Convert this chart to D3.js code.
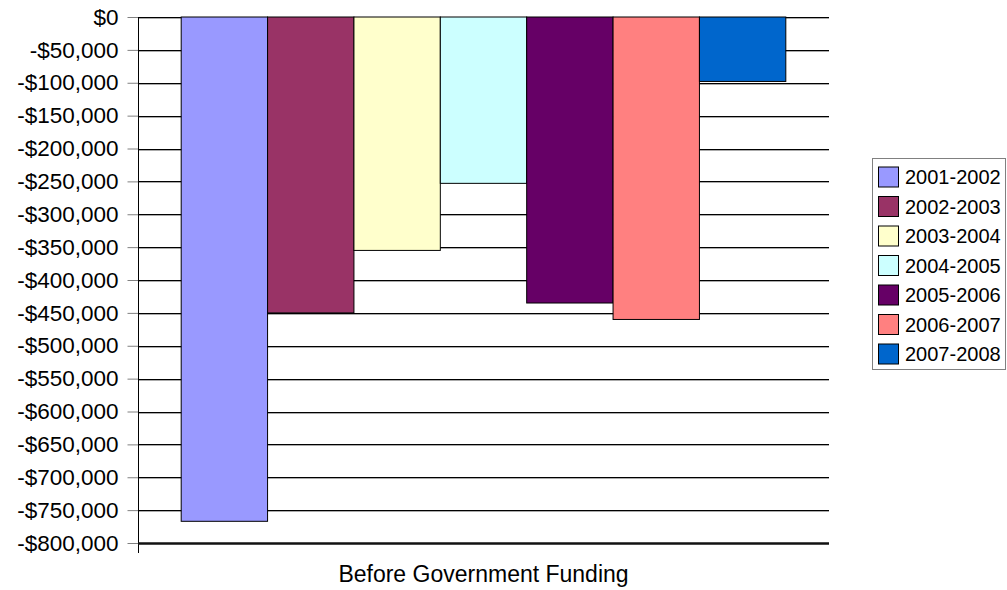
<!DOCTYPE html>
<html>
<head>
<meta charset="utf-8">
<script src="https://cdn.jsdelivr.net/npm/d3@7"></script>
<style>
  html, body { margin: 0; padding: 0; background: #fff; }
  svg { display: block; font-family: "Liberation Sans", Arial, sans-serif; }
</style>
</head>
<body>
<svg id="chart" width="1007" height="590"></svg>
<script>
const category = "Before Government Funding";
const seriesNames = ["2001-2002", "2002-2003", "2003-2004", "2004-2005", "2005-2006", "2006-2007", "2007-2008"];
const seriesValues = [-767000, -450000, -355000, -253000, -435000, -460000, -98000];
const seriesColors = ["#9999FF", "#993366", "#FFFFCC", "#CCFFFF", "#660066", "#FF8080", "#0066CC"];
const yTicks = [0, -50000, -100000, -150000, -200000, -250000, -300000, -350000, -400000,
                -450000, -500000, -550000, -600000, -650000, -700000, -750000, -800000];

(function () {
const svg = d3.select("#chart");
const pL = 138, pR = 829, pT = 17, pB = 543;

const y = d3.scaleLinear().domain([-800000, 0]).range([pB, pT]);
const x = d3.scaleBand().domain(seriesNames).range([pL, pR]).paddingInner(0).paddingOuter(0.5);

const fmt = d => d === 0 ? "$0" : "-$" + d3.format(",")(Math.abs(d));

// gridlines
const grid = svg.append("g");
yTicks.filter(t => t !== -800000).forEach(t => {
  grid.append("line").attr("x1", pL).attr("x2", pR)
    .attr("y1", Math.round(y(t)) + 1.5).attr("y2", Math.round(y(t)) + 1.5)
    .attr("stroke", "#aaaaaa").attr("stroke-width", 1);
  grid.append("line").attr("x1", pL).attr("x2", pR)
    .attr("y1", Math.round(y(t)) + 0.5).attr("y2", Math.round(y(t)) + 0.5)
    .attr("stroke", "#000").attr("stroke-width", 1);
});

// bars
svg.append("g").selectAll("rect").data(seriesValues).join("rect")
  .attr("x", (d, i) => x(seriesNames[i]))
  .attr("y", d => y(0))
  .attr("width", x.bandwidth())
  .attr("height", d => y(d) - y(0))
  .attr("fill", (d, i) => seriesColors[i])
  .attr("stroke", "#000").attr("stroke-width", 1);

// y axis
const yAxis = d3.axisLeft(y).tickValues(yTicks).tickFormat(fmt).tickSize(11).tickPadding(9);
const ya = svg.append("g").attr("transform", `translate(${pL + 0.5},0)`).call(yAxis);
ya.select(".domain").remove();
ya.selectAll(".tick line").attr("stroke", "#808080");
ya.selectAll(".tick text").attr("font-size", 22.5).attr("fill", "#000")
  .attr("font-family", "'Liberation Sans', Arial, sans-serif");
svg.append("line").attr("x1", pL + 0.5).attr("x2", pL + 0.5)
  .attr("y1", pT).attr("y2", pB + 10).attr("stroke", "#000").attr("stroke-width", 1);

// bottom axis (thick)
svg.append("line").attr("x1", pL).attr("x2", pR)
  .attr("y1", pB + 0.5).attr("y2", pB + 0.5).attr("stroke", "#111").attr("stroke-width", 2.5);

// x label
svg.append("text").attr("x", (pL + pR) / 2).attr("y", 582)
  .attr("text-anchor", "middle").attr("font-size", 23).attr("fill", "#000").text(category);

// legend
const lg = svg.append("g");
lg.append("rect").attr("x", 872.5).attr("y", 158.5).attr("width", 133).attr("height", 211)
  .attr("fill", "#fff").attr("stroke", "#808080").attr("stroke-width", 1);
seriesNames.forEach((n, i) => {
  const cy = 177 + i * 29.5;
  lg.append("rect").attr("x", 878.5).attr("y", cy - 10).attr("width", 20).attr("height", 20)
    .attr("fill", seriesColors[i]).attr("stroke", "#000").attr("stroke-width", 1);
  lg.append("text").attr("x", 905).attr("y", cy).attr("dy", "0.36em")
    .attr("font-size", 20).attr("fill", "#000").text(n);
});
})();
</script>
</body>
</html>
